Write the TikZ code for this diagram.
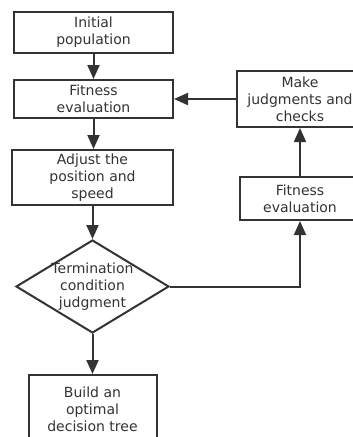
\documentclass[tikz,border=0pt]{standalone}
\usepackage{fontspec}
\setmainfont{DejaVu Sans}
\usetikzlibrary{shapes.geometric,arrows.meta}
\definecolor{flowgray}{HTML}{333333}

\begin{document}
\begin{tikzpicture}[x=1pt, y=-1pt,
    box/.style={rectangle, draw=flowgray, line width=2pt, fill=white, text=flowgray,
        align=center, inner sep=0pt, font=\fontsize{14}{17}\selectfont},
    decision/.style={diamond, draw=flowgray, line width=2pt, fill=white, text=flowgray,
        align=center, inner sep=-15pt, aspect=1.65, font=\fontsize{14}{17}\selectfont},
    flow/.style={draw=flowgray, line width=2pt, -{Triangle[length=14pt,width=12pt]}}]
            \useasboundingbox (0,0) rectangle (353,437);

            \node[box, minimum width=159pt, minimum height=41pt] (init) at (93.5,32.5) {Initial\\population};
            \node[box, minimum width=159pt, minimum height=38pt] (fit1) at (93.5,99) {Fitness\\evaluation};
            \node[box, minimum width=161pt, minimum height=55pt] (adjust) at (92.5,177.5) {Adjust the\\position and\\speed};
            \node[decision, minimum width=153pt, minimum height=93pt] (term) at (92.5,286.5) {Termination\\condition\\judgment};
            \node[box, minimum width=128pt, minimum height=68pt] (build) at (92.5,409) {Build an\\optimal\\decision tree};
            \node[box, minimum width=126pt, minimum height=56pt] (judge) at (300,99) {Make\\judgments and\\checks};
            \node[box, minimum width=120pt, minimum height=43pt] (fit2) at (300,198.5) {Fitness\\evaluation};

            \draw[flow] (init) -- (fit1);
            \draw[flow] (fit1.south) -- (fit1.south |- adjust.north);
            \draw[flow] (adjust) -- (term);
            \draw[flow] (term) -- (build);
            \draw[flow] (term.east) -| (fit2.south);
            \draw[flow] (fit2) -- (judge);
            \draw[flow] (judge) -- (fit1);
        \end{tikzpicture}
\end{document}
